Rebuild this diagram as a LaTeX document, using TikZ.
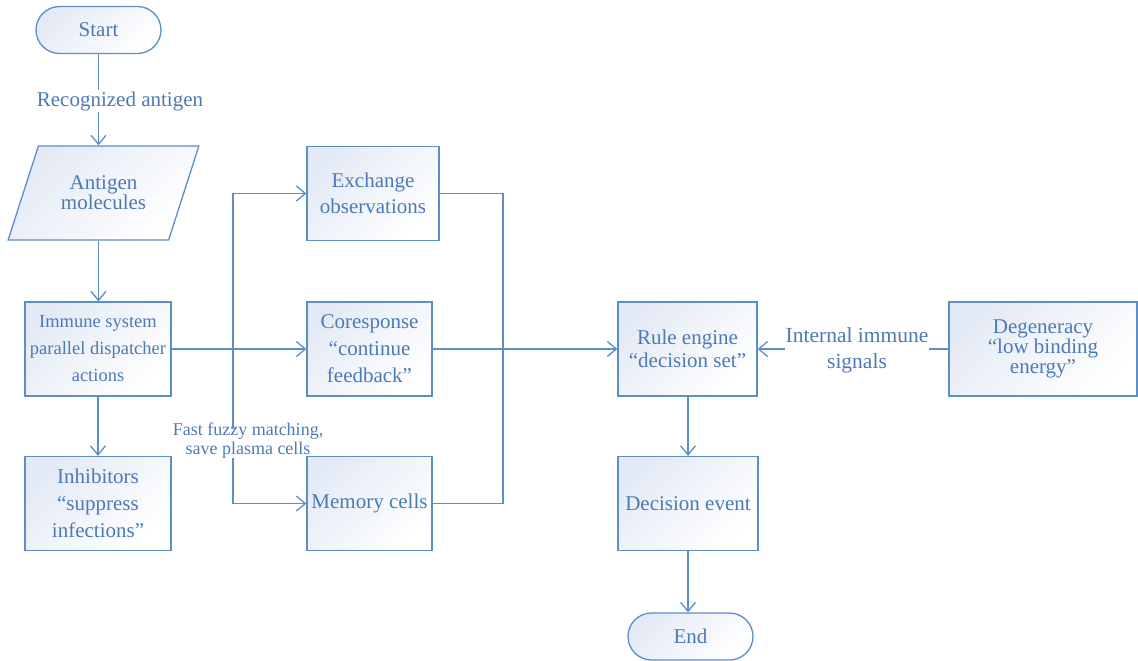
\documentclass[tikz,border=0pt]{standalone}
\usepackage{fontspec}
\setmainfont{Liberation Serif}
\usetikzlibrary{arrows.meta,shapes.misc,shapes.geometric}
\definecolor{lc}{RGB}{92,142,200}
\definecolor{tc}{RGB}{76,122,182}
\definecolor{fc}{RGB}{228,234,245}
\newcommand{\fs}[2]{\fontsize{#1}{#2}\selectfont}
\tikzset{
  shade/.style={draw=lc, line width=1.3pt, top color=fc, bottom color=white, shading angle=45, text=tc, align=center, inner sep=0pt},
  box/.style={shade, rectangle, minimum height=94pt},
  pill/.style={shade, rounded rectangle, minimum width=125pt, minimum height=47pt, font=\fs{21}{24}},
  conn/.style={draw=lc, line width=1.3pt},
  arr/.style={conn, -{Straight Barb[length=9pt,width=15pt]}},
  lbl/.style={text=tc, fill=white, align=center, inner sep=1pt}
}
\begin{document}
\begin{tikzpicture}[x=1pt,y=-1pt]
\useasboundingbox (0,0) rectangle (1138,661);
\node[pill] (start) at (98.5,30) {Start};
\node[shade, trapezium, trapezium left angle=60, trapezium right angle=120, trapezium stretches=true, minimum width=191pt, minimum height=94pt, font=\fs{21}{19}] (ant) at (103.5,193) {Antigen\\molecules};
\node[box, minimum width=146pt, font=\fs{18.5}{27}] (imm) at (98,349) {Immune system\\parallel dispatcher\\actions};
\node[box, minimum width=146pt, font=\fs{21}{27}] (inh) at (98,503.5) {Inhibitors\\``suppress\\infections''};
\node[box, minimum width=132pt, font=\fs{21}{26}] (exch) at (373,193.5) {Exchange\\observations};
\node[box, minimum width=125pt, font=\fs{21}{27}] (cor) at (369.5,349) {Coresponse\\``continue\\feedback''};
\node[box, minimum width=125pt, font=\fs{21}{26}] (mem) at (369.5,503.5) {Memory cells};
\node[box, minimum width=139pt, font=\fs{21}{23}] (rule) at (687.5,349) {Rule engine\\``decision set''};
\node[box, minimum width=140pt, font=\fs{21}{26}] (dec) at (688,503.5) {Decision event};
\node[pill] (end) at (690.5,636.5) {End};
\node[box, minimum width=188pt, font=\fs{21}{20}] (deg) at (1043,349) {Degeneracy\\``low binding\\energy''};

\coordinate (br) at (233,349);
\coordinate (mg) at (503,349);

\draw[arr] (start.south) -- (start.south |- ant.north);
\node[lbl, font=\fs{21}{22}] (rec) at (120,101) {Recognized antigen};
\draw[arr] (start.south |- ant.south) -- (start.south |- imm.north);
\draw[arr] (imm.south) -- (inh.north);
\draw[arr] (br) |- (exch.west);
\node[text=tc, align=center, inner sep=0pt, font=\fs{18}{19}] (fast) at (248,441) {Fast fuzzy matching,\\save plasma cells};
\draw[conn] (br) -- ([yshift=-6pt]fast.north -| br);
\draw[arr] ([yshift=1pt]fast.south -| br) |- (mem.west);
\draw[arr] (imm.east) -- (cor.west);
\draw[conn] (exch.east) -| (mg);
\draw[conn] (mem.east) -| (mg);
\draw[arr] (cor.east) -- (rule.west);
\draw[arr] (deg.west) -- (rule.east);
\node[lbl, font=\fs{21.5}{26}] (int) at (857,350) {Internal immune\\signals};
\draw[arr] (rule.south -| dec.south) -- (dec.north);
\draw[arr] (dec.south) -- (dec.south |- end.north);
\end{tikzpicture}
\end{document}
